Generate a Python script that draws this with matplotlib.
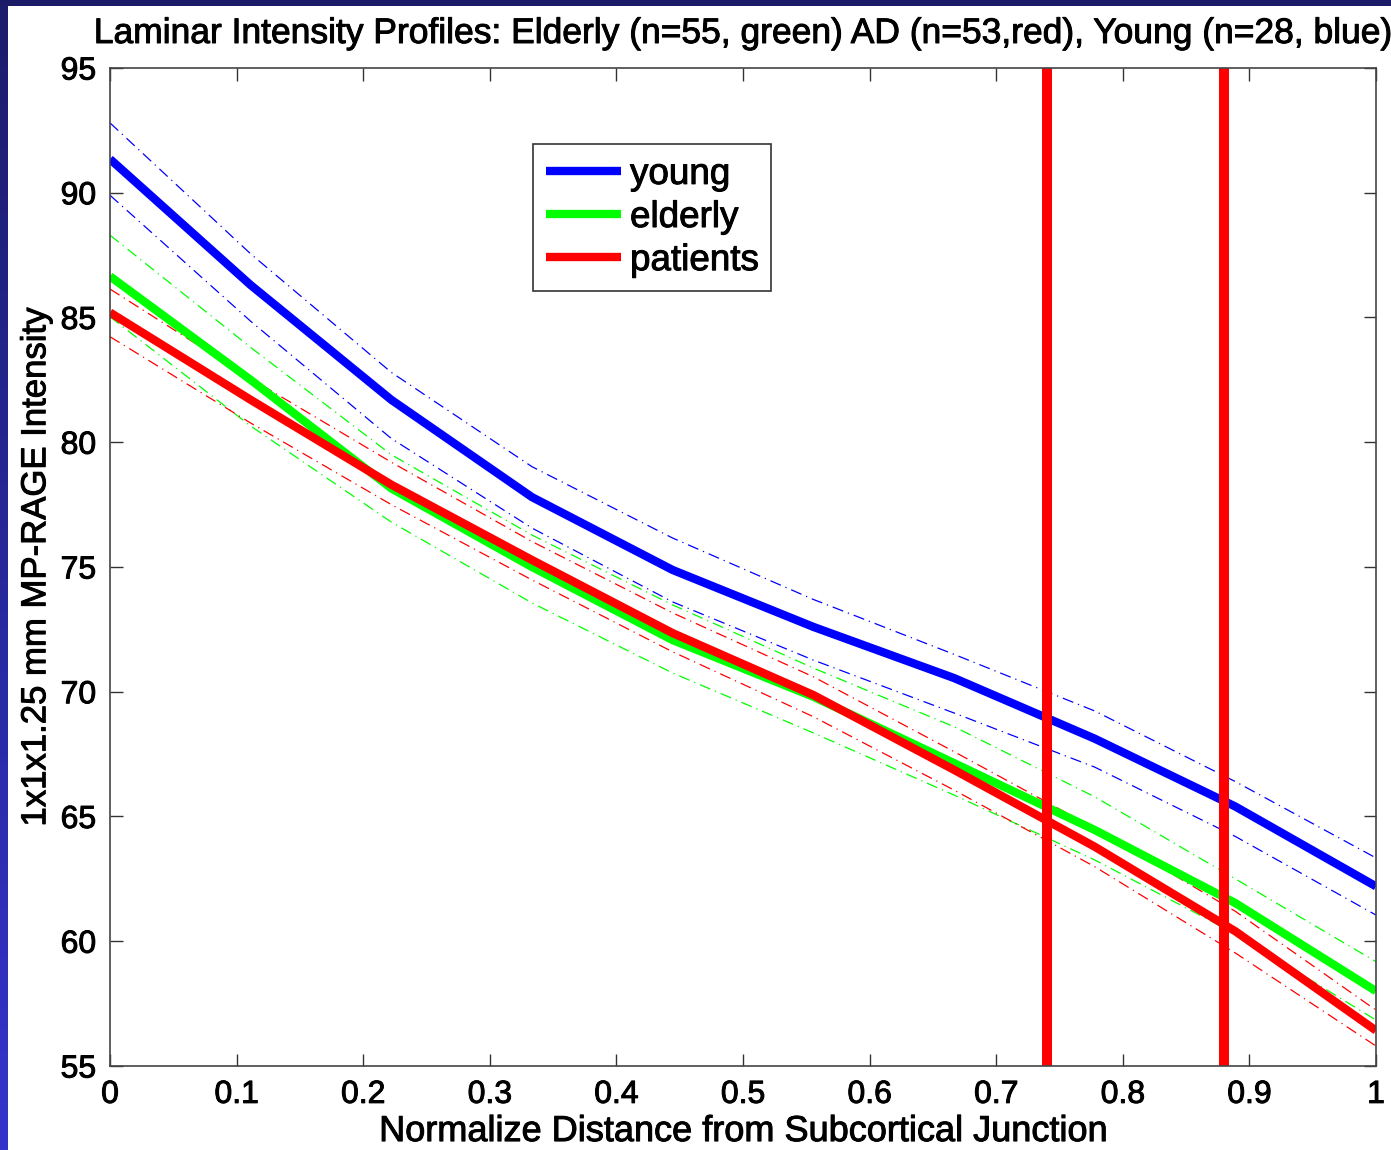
import matplotlib
matplotlib.use("Agg")
import matplotlib.pyplot as plt
import matplotlib.patheffects as pe
import numpy as np

plt.rcParams['font.family'] = ['Liberation Sans', 'DejaVu Sans']

# Normalized laminar depth samples
depth = [0, 1/9, 2/9, 3/9, 4/9, 5/9, 6/9, 7/9, 8/9, 1]

# Mean profiles and their error bounds per group
young_mean = [91.35, 86.3, 81.7, 77.8, 74.88, 72.6, 70.55, 68.12, 65.4, 62.2]
young_upper = [92.8, 87.55, 82.8, 79.02, 76.16, 73.7, 71.5, 69.23, 66.4, 63.34]
young_lower = [89.9, 84.85, 80.15, 76.56, 73.6, 71.27, 69.15, 66.98, 64.2, 61.05]

elderly_mean = [86.65, 82.5, 78.15, 75.0, 72.07, 69.8, 67.14, 64.46, 61.53, 58.0]
elderly_upper = [88.3, 83.8, 79.5, 76.28, 73.48, 70.95, 68.6, 65.79, 62.5, 59.18]
elderly_lower = [85.03, 80.65, 76.8, 73.56, 70.75, 68.35, 65.86, 63.26, 60.3, 56.84]

patients_mean = [85.2, 81.7, 78.3, 75.28, 72.35, 69.87, 66.87, 63.79, 60.4, 56.42]
patients_upper = [86.14, 82.55, 79.2, 76.02, 73.16, 70.6, 67.6, 64.53, 61.2, 57.24]
patients_lower = [84.23, 80.77, 77.5, 74.48, 71.6, 69.0, 66.06, 62.99, 59.53, 55.8]

# Depths marked with vertical lines
marker_depths = [0.74, 0.88]

x_ticks = [0, 0.1, 0.2, 0.3, 0.4, 0.5, 0.6, 0.7, 0.8, 0.9, 1]
x_tick_labels = ['0', '0.1', '0.2', '0.3', '0.4', '0.5', '0.6', '0.7', '0.8', '0.9', '1']
y_ticks = [55, 60, 65, 70, 75, 80, 85, 90, 95]

W, H = 1391, 1150
fig = plt.figure(figsize=(W / 100, H / 100), dpi=100, facecolor='white')

# Slide-style border strips
top_ax = fig.add_axes([0, 1 - 6 / H, 1, 6 / H])
top_ax.imshow([[0, 0]], cmap=matplotlib.colors.ListedColormap(['#1b1b68']), aspect='auto')
top_ax.set_axis_off()
left_ax = fig.add_axes([0, 0, 7 / W, 1 - 6 / H])
grad = np.linspace(0, 1, 256).reshape(-1, 1)
cmap_side = matplotlib.colors.LinearSegmentedColormap.from_list('side', ['#1c1c6c', '#3434cc'])
left_ax.imshow(grad, cmap=cmap_side, aspect='auto')
left_ax.set_axis_off()

ax = fig.add_axes([110 / W, 1 - 1066 / H, (1376 - 110) / W, (1066 - 68) / H])

dash = (0, (9, 4, 1, 4))
groups = [
    ('young', young_mean, young_upper, young_lower, (0, 0, 1)),
    ('elderly', elderly_mean, elderly_upper, elderly_lower, (0, 1, 0)),
    ('patients', patients_mean, patients_upper, patients_lower, (1, 0, 0)),
]
for name, mean, upper, lower, color in groups:
    ax.plot(depth, upper, color=color, lw=0.9, linestyle=dash)
    ax.plot(depth, lower, color=color, lw=0.9, linestyle=dash)
handles = []
for name, mean, upper, lower, color in groups:
    h, = ax.plot(depth, mean, color=color, lw=6, solid_capstyle='butt', label=name)
    handles.append(h)

for d in marker_depths:
    ax.axvline(d, color=(1, 0, 0), lw=7.2)

ax.set_xlim(0, 1)
ax.set_ylim(55, 95)
ax.set_xticks(x_ticks)
ax.set_xticklabels(x_tick_labels)
ax.set_yticks(y_ticks)
ax.tick_params(direction='in', length=9, width=1, top=True, right=True,
               labelsize=23, pad=10, colors='#333333', labelcolor='black')
for s in ax.spines.values():
    s.set_color('#444444')
    s.set_linewidth(1.2)

ax.set_xlabel('Normalize Distance from Subcortical Junction', fontsize=26, labelpad=3)
ax.set_ylabel('1x1x1.25 mm MP-RAGE Intensity', fontsize=25, labelpad=6)
ax.set_title('Laminar Intensity Profiles: Elderly (n=55, green) AD (n=53,red), Young (n=28, blue)',
             fontsize=25.5, pad=18)

leg = ax.legend(handles=handles, loc='upper left', bbox_to_anchor=(0.334, 0.9238),
                borderaxespad=0, fontsize=26.5, handlelength=2.04, handletextpad=0.25,
                labelspacing=0.22, borderpad=0.35, fancybox=False, framealpha=1)
leg.get_frame().set_edgecolor('#333333')
leg.get_frame().set_linewidth(1.2)
for line in leg.get_lines():
    line.set_linewidth(6)

# Slightly heavier glyphs for all text
bold_edge = [pe.withStroke(linewidth=0.7, foreground='black')]
texts = ([ax.title, ax.xaxis.label, ax.yaxis.label] + ax.get_xticklabels()
         + ax.get_yticklabels() + leg.get_texts())
for t in texts:
    t.set_path_effects(bold_edge)

fig.savefig('out.png', dpi=100, facecolor='white')
